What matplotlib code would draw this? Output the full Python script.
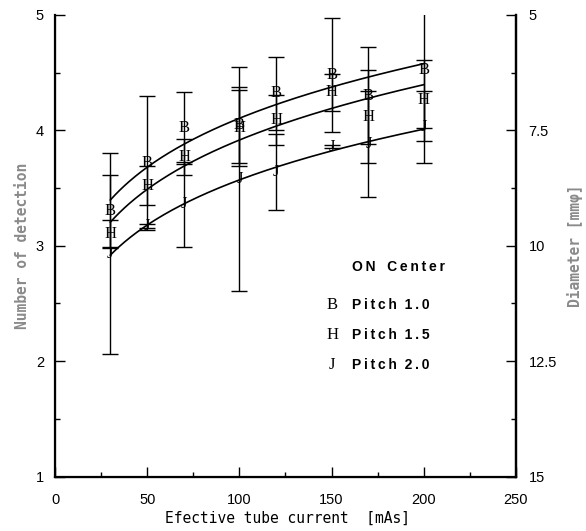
import numpy as np
import matplotlib
matplotlib.use('Agg')
import matplotlib.pyplot as plt
from matplotlib.ticker import MultipleLocator, FixedLocator

# data
current = [30, 50, 70, 100, 120, 150, 170, 200]
pitch10 = [3.30, 3.72, 4.02, 4.05, 4.32, 4.48, 4.30, 4.52]
pitch10_err = [0.31, 0.58, 0.315, 0.33, 0.32, 0.49, 0.42, 0.50]
pitch15 = [3.10, 3.52, 3.77, 4.02, 4.09, 4.33, 4.12, 4.26]
pitch15_err = [0.12, 0.17, 0.155, 0.33, 0.22, 0.16, 0.40, 0.35]
pitch20 = [2.93, 3.17, 3.36, 3.58, 3.64, 3.86, 3.88, 4.03]
pitch20_err = [0.87, 0.02, 0.37, 0.97, 0.33, 0.01, 0.46, 0.31]

series = [('B', 'Pitch 1.0', pitch10, pitch10_err),
          ('H', 'Pitch 1.5', pitch15, pitch15_err),
          ('J', 'Pitch 2.0', pitch20, pitch20_err)]

left_ticks = [1, 2, 3, 4, 5]
right_ticks = [5, 7.5, 10, 12.5, 15]
right_labels = ['5', '7.5', '10', '12.5', '15']

SERIF = ['Liberation Serif', 'DejaVu Serif']
SANS = ['Liberation Sans', 'DejaVu Sans']
MONO = ['DejaVu Sans Mono', 'DejaVu Sans']


def spaced(s):
    # wide letter spacing like the original
    return '\u2009'.join(s)


fig = plt.figure(figsize=(5.86, 5.31), dpi=100)
ax = fig.add_axes([0.0939, 0.1026, 0.7866, 0.8692])

x = np.array(current, dtype=float)
xs = np.linspace(30, 200, 200)
for letter, name, vals, err in series:
    ax.errorbar(x, vals, yerr=err, fmt='none', ecolor='black',
                elinewidth=1.0, capsize=5.5, capthick=1.0, zorder=2)
    # power fit y = a*x^b like the original curves
    b, la = np.polyfit(np.log(x), np.log(vals), 1)
    ax.plot(xs, np.exp(la) * xs ** b, color='black', lw=1.2, zorder=3)
    for xi, yi in zip(x, vals):
        ax.text(xi, yi, letter, ha='center', va='center', fontsize=12,
                family=SERIF, zorder=4)

ax.set_xlim(0, 250)
ax.set_ylim(1, 5)
ax.xaxis.set_major_locator(MultipleLocator(50))
ax.xaxis.set_minor_locator(MultipleLocator(25))
ax.yaxis.set_major_locator(FixedLocator(left_ticks))
ax.yaxis.set_minor_locator(MultipleLocator(0.5))

ax.spines['top'].set_visible(False)
for sp in ['left', 'bottom', 'right']:
    ax.spines[sp].set_linewidth(1.6)

ax.tick_params(which='both', direction='in', width=1.0, labelsize=10.5, top=False)
ax.tick_params(which='major', length=7)
ax.tick_params(which='minor', length=3.5)
ax.tick_params(axis='y', pad=8)
ax.tick_params(axis='x', pad=12)
for lab in ax.get_xticklabels() + ax.get_yticklabels():
    lab.set_family(SANS)

ax2 = ax.twinx()
ax2.set_ylim(15, 5)
ax2.yaxis.set_major_locator(FixedLocator(right_ticks))
ax2.set_yticklabels(right_labels)
ax2.yaxis.set_minor_locator(MultipleLocator(1.25))
ax2.spines['top'].set_visible(False)
ax2.spines['right'].set_linewidth(1.6)
ax2.tick_params(which='both', direction='in', width=1.0, labelsize=10.5, pad=9)
ax2.tick_params(which='major', length=7)
ax2.tick_params(which='minor', length=3.5)
for lab in ax2.get_yticklabels():
    lab.set_family(SANS)

# legend block drawn as text
ax.text(0.644, 0.454, spaced('ON') + '   ' + spaced('Center'), transform=ax.transAxes,
        ha='left', va='center', fontsize=10, fontweight='bold', family=SANS)
rows = [0.372, 0.307, 0.241]
for (letter, name, vals, err), ry in zip(series, rows):
    ax.text(0.601, ry, letter, transform=ax.transAxes, ha='center', va='center',
            fontsize=12, family=SERIF)
    ax.text(0.644, ry, spaced('Pitch') + '  ' + spaced(name.split()[1]),
            transform=ax.transAxes, ha='left', va='center', fontsize=10,
            fontweight='bold', family=SANS)

fig.text(0.49, 0.0245, 'Efective tube current  [mAs]', ha='center', va='center',
         fontsize=10.5, family=MONO)
fig.text(0.039, 0.5375, 'Number of detection', rotation=90, ha='center',
         va='center', fontsize=10.5, fontweight='bold', family=MONO, color='#8a8a8a')
fig.text(0.981, 0.5375, 'Diameter [mm\u03c6]', rotation=90, ha='center',
         va='center', fontsize=10.5, fontweight='bold', family=MONO, color='#8a8a8a')

fig.savefig('out.png', dpi=100)
